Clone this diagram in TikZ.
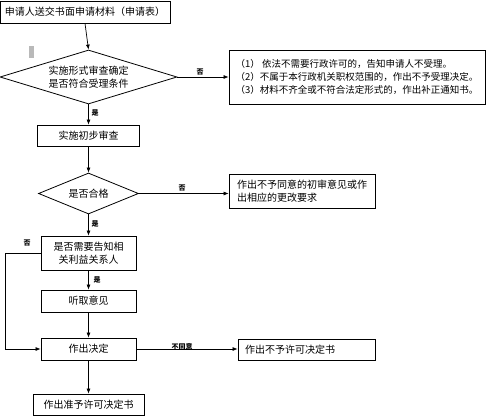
\documentclass[tikz,border=0pt]{standalone}
\usepackage{fontspec}
\setmainfont{Noto Sans CJK SC}
\usetikzlibrary{arrows.meta,shapes.geometric}

\begin{document}
\begin{tikzpicture}[x=1pt,y=-1pt,>={Latex[length=5pt,width=4pt]},
  font=\fontsize{10}{13}\selectfont,
  box/.style={draw,line width=0.8pt,inner sep=0pt,align=center},
  choice/.style={draw,diamond,line width=0.8pt,inner sep=0pt,align=center},
  tag/.style={font=\fontsize{7}{8}\selectfont\bfseries,inner sep=0pt},
  flow/.style={->,line width=0.7pt}]
  \useasboundingbox (0,0) rectangle (486,417);
  \fill[gray!55] (29,46) rectangle (34,58);

  % main column
  \node[box,minimum width=170pt,minimum height=22pt] (req) at (85,12) {申请人送交书面申请材料（申请表）};
  \node[choice,aspect=3.3,minimum width=177pt,minimum height=54pt] (form) at (88.5,77) {实施形式审查确定\\是否符合受理条件};
  \node[box,minimum width=102pt,minimum height=21pt] (init) at (88.5,135.5) {实施初步审查};
  \node[choice,aspect=2.4,minimum width=100pt,minimum height=41pt] (pass) at (88.5,193.5) {是否合格};
  \node[box,minimum width=95pt,minimum height=34pt] (notify) at (88.5,253) {是否需要告知相\\关利益关系人};
  \node[box,minimum width=95pt,minimum height=22pt] (hear) at (88.5,301) {听取意见};
  \node[box,minimum width=95pt,minimum height=22pt] (decide) at (88.5,349) {作出决定};
  \node[box,minimum width=111pt,minimum height=21pt] (grant) at (88.5,404.5) {作出准予许可决定书};

  % right column
  \node[box,align=left,minimum width=256pt,minimum height=54pt,font=\fontsize{9.5}{13}\selectfont] (reject) at (357,77)
    {（1） 依法不需要行政许可的，告知申请人不受理。\\（2）不属于本行政机关职权范围的，作出不予受理决定。\\（3）材料不齐全或不符合法定形式的，作出补正通知书。};
  \node[box,align=left,minimum width=146pt,minimum height=34pt] (amend) at (302,191) {作出不予同意的初审意见或作\\出相应的更改要求};
  \node[box,align=left,text width=123pt,inner xsep=7pt,minimum height=21pt] (deny) at (306.5,349.5) {作出不予许可决定书};

  \coordinate (bypass) at (5,253);

  \draw[flow] (req.south) -- (form.north);
  \draw[flow] (form.south) -- (init.north);
  \draw[flow] (init.south) -- (pass.north);
  \draw[flow] (pass.south) -- (notify.north);
  \draw[flow] (notify.south) -- (hear.north);
  \draw[flow] (hear.south) -- (decide.north);
  \draw[flow] (decide.south) -- (grant.north);
  \draw[flow] (form.east) -- (reject.west);
  \draw[flow] (pass.east) -- (pass.east -| amend.west);
  \draw[flow] (decide.east) -- (decide.east -| deny.west);
  \draw[flow] (notify.west) -- (bypass) |- (decide.west);

  \node[tag] (t1) at (200,72) {否};
  \node[tag] (t2) at (95,113) {是};
  \node[tag] (t3) at (182,188) {否};
  \node[tag] (t4) at (95,224) {是};
  \node[tag] (t5) at (27,243) {否};
  \node[tag] (t6) at (97,280) {是};
  \node[tag] (t7) at (182,347) {不同意};
\end{tikzpicture}
\end{document}
